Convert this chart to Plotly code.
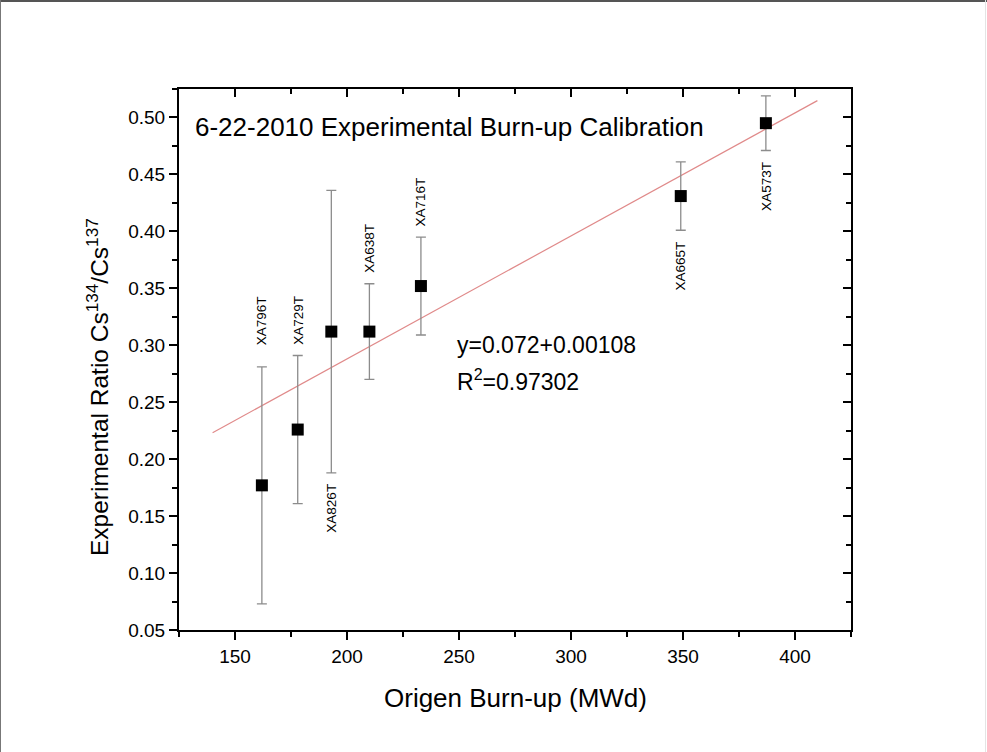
import plotly.graph_objects as go

# Calibration samples
samples = ["XA796T", "XA729T", "XA826T", "XA638T", "XA716T", "XA665T", "XA573T"]
burnup_mwd = [162, 178, 193, 210, 233, 349, 387]
cs_ratio = [0.177, 0.226, 0.312, 0.312, 0.352, 0.431, 0.495]
ratio_err = [0.104, 0.065, 0.124, 0.042, 0.043, 0.030, 0.024]
label_side = ["above", "above", "below", "above", "above", "below", "below"]

# Linear fit y = a + b*x
fit_intercept = 0.072
fit_slope = 0.00108
fit_r2 = 0.97302
fit_x = [140, 410]

x_ticks = [150, 200, 250, 300, 350, 400]
y_ticks = [0.05, 0.10, 0.15, 0.20, 0.25, 0.30, 0.35, 0.40, 0.45, 0.50]

W, H = 987, 752
ML, MR, MT, MB = 179, 136, 89, 122
PW, PH = W - ML - MR, H - MT - MB
XR = [125, 425]
YR = [0.05, 0.525]
FONT = "Liberation Sans, Arial, sans-serif"


def px_x(p):
    return (p - ML) / PW


def px_y(p):
    return (H - MB - p) / PH


fit_y = [fit_intercept + fit_slope * v for v in fit_x]

fig = go.Figure()

fig.add_trace(go.Scatter(
    x=fit_x, y=fit_y, mode="lines",
    line=dict(color="#e08a8a", width=1.2),
    showlegend=False, hoverinfo="skip",
))

fig.add_trace(go.Scatter(
    x=burnup_mwd, y=cs_ratio, mode="markers",
    marker=dict(symbol="square", size=12, color="black"),
    error_y=dict(type="data", array=ratio_err, visible=True,
                 color="#8c8c8c", thickness=1.3, width=5),
    showlegend=False,
))

# invisible trace to activate the mirrored top/right axes
fig.add_trace(go.Scatter(x=[None], y=[None], xaxis="x2", yaxis="y2",
                         showlegend=False, hoverinfo="skip"))

axis_common = dict(showgrid=False, zeroline=False, showline=True,
                   linecolor="black", linewidth=2, ticklen=8, tickwidth=1.5,
                   tickcolor="black")

fig.update_layout(
    width=W, height=H,
    margin=dict(l=ML, r=MR, t=MT, b=MB),
    paper_bgcolor="white", plot_bgcolor="white",
    font=dict(family=FONT, color="black"),
    xaxis=dict(range=XR, tickvals=x_ticks, ticks="outside",
               minor=dict(dtick=25, tick0=125, ticks="outside", ticklen=5,
                          tickwidth=1.5, tickcolor="black"),
               tickfont=dict(size=19), **axis_common),
    yaxis=dict(range=YR, tickvals=y_ticks, tickformat=".2f", ticks="outside",
               minor=dict(dtick=0.025, tick0=0.025, ticks="outside", ticklen=5,
                          tickwidth=1.5, tickcolor="black"),
               tickfont=dict(size=19), **axis_common),
    xaxis2=dict(range=XR, overlaying="x", side="top", tickvals=x_ticks,
                ticks="inside", showticklabels=False,
                minor=dict(dtick=25, tick0=125, ticks="inside", ticklen=5,
                           tickwidth=1.5, tickcolor="black"),
                **axis_common),
    yaxis2=dict(range=YR, overlaying="y", side="right", tickvals=y_ticks,
                ticks="inside", showticklabels=False,
                minor=dict(dtick=0.025, tick0=0.025, ticks="inside", ticklen=5,
                           tickwidth=1.5, tickcolor="black"),
                **axis_common),
)

annotations = []

# sample labels, rotated, just past the end of each error bar
for name, xv, yv, ev, side in zip(samples, burnup_mwd, cs_ratio, ratio_err, label_side):
    gap = 20 if name == "XA796T" else 9
    if side == "above":
        annotations.append(dict(x=xv, y=yv + ev, xref="x", yref="y", text=name,
                                textangle=-90, showarrow=False, yanchor="bottom",
                                yshift=gap, font=dict(size=13.5)))
    else:
        annotations.append(dict(x=xv, y=yv - ev, xref="x", yref="y", text=name,
                                textangle=-90, showarrow=False, yanchor="top",
                                yshift=-gap, font=dict(size=13.5)))

annotations += [
    dict(x=px_x(193), y=px_y(127), xref="paper", yref="paper", xanchor="left",
         yanchor="middle", showarrow=False,
         text="6-22-2010 Experimental Burn-up Calibration", font=dict(size=26)),
    dict(x=px_x(455), y=px_y(345), xref="paper", yref="paper", xanchor="left",
         yanchor="middle", showarrow=False,
         text=f"y={fit_intercept:g}+{fit_slope:g}", font=dict(size=23)),
    dict(x=px_x(455), y=px_y(380), xref="paper", yref="paper", xanchor="left",
         yanchor="middle", showarrow=False,
         text=f"R<sup>2</sup>={fit_r2:.5f}", font=dict(size=23)),
    dict(x=px_x(515), y=px_y(698), xref="paper", yref="paper", xanchor="center",
         yanchor="middle", showarrow=False,
         text="Origen Burn-up (MWd)", font=dict(size=26)),
    dict(x=px_x(97), y=px_y(387), xref="paper", yref="paper", xanchor="center",
         yanchor="middle", showarrow=False, textangle=-90,
         text="Experimental Ratio Cs<sup>134</sup>/Cs<sup>137</sup>",
         font=dict(size=24.5)),
]
fig.update_layout(annotations=annotations)

# page frame
fig.update_layout(shapes=[
    dict(type="line", xref="paper", yref="paper", x0=px_x(0), x1=px_x(W),
         y0=px_y(1), y1=px_y(1), line=dict(color="#555555", width=2)),
    dict(type="line", xref="paper", yref="paper", x0=px_x(0.5), x1=px_x(0.5),
         y0=px_y(0), y1=px_y(H), line=dict(color="#777777", width=1)),
    dict(type="line", xref="paper", yref="paper", x0=px_x(W - 1.5), x1=px_x(W - 1.5),
         y0=px_y(0), y1=px_y(H), line=dict(color="#e4e4e4", width=1)),
])

fig.write_html("out.html")
